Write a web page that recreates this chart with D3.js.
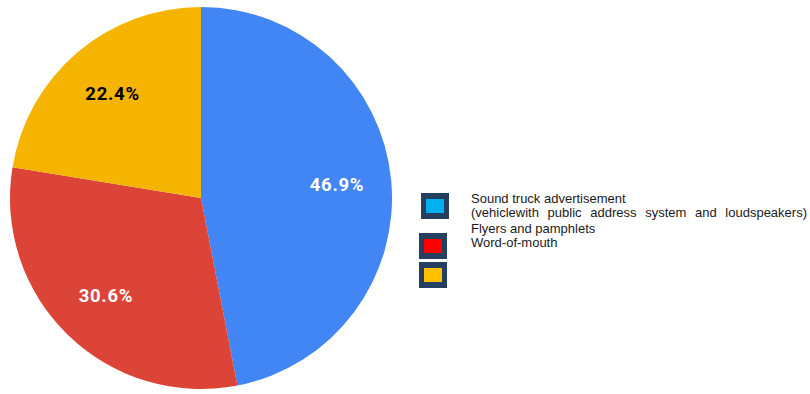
<!DOCTYPE html>
<html>
<head>
<meta charset="utf-8">
<script src="https://cdn.jsdelivr.net/npm/d3@7"></script>
<style>
  body { margin: 0; background: #fff; }
  svg { display: block; }
</style>
</head>
<body>
<svg id="chart" width="810" height="394"></svg>
<script>
var width = 810;
var height = 394;

// slice data, clockwise from 12 o'clock
var categories = ['Sound truck advertisement', 'Flyers and pamphlets', 'Word-of-mouth'];
var values = [46.9, 30.6, 22.4];
var sliceColors = ['#4285f4', '#db4437', '#f4b400'];
var labelColors = ['#fff', '#fff', '#000'];

// legend (as drawn in the original)
var legendLines = [
    'Sound truck advertisement',
    '(vehiclewith public address system and loudspeakers)',
    'Flyers and pamphlets',
    'Word-of-mouth'
];
var legendSwatches = ['#00b0f0', '#ff0000', '#ffc000'];

var svg = d3.select('#chart');

var cx = 201, cy = 198, r = 191;

var pie = d3.pie().sort(null).value(function(d) { return d; });
var arcs = pie(values);
var arc = d3.arc().innerRadius(0).outerRadius(r);
var labelArc = d3.arc().innerRadius(r * 0.715).outerRadius(r * 0.715);

var g = svg.append('g').attr('transform', 'translate(' + cx + ',' + cy + ')');

g.selectAll('path.slice')
    .data(arcs)
    .enter().append('path')
    .attr('class', 'slice')
    .attr('d', arc)
    .attr('fill', function(d, i) { return sliceColors[i]; });

g.selectAll('text.pct')
    .data(arcs)
    .enter().append('text')
    .attr('class', 'pct')
    .attr('transform', function(d) { return 'translate(' + labelArc.centroid(d) + ')'; })
    .attr('text-anchor', 'middle')
    .attr('dy', '0.35em')
    .style('font-family', 'Roboto, sans-serif')
    .style('font-weight', 'bold')
    .style('font-size', '18.5px')
    .style('letter-spacing', '0.7px')
    .attr('fill', function(d, i) { return labelColors[i]; })
    .text(function(d) { return d.data.toFixed(1) + '%'; });

// legend swatches
var swatchX = [421, 419, 419];
var swatchY = [193, 233, 262];
var legend = svg.append('g');
legend.selectAll('rect.outer')
    .data(legendSwatches)
    .enter().append('rect')
    .attr('class', 'outer')
    .attr('x', function(d, i) { return swatchX[i]; })
    .attr('y', function(d, i) { return swatchY[i]; })
    .attr('width', 28)
    .attr('height', 26)
    .attr('fill', '#243f60');

legend.selectAll('rect.inner')
    .data(legendSwatches)
    .enter().append('rect')
    .attr('class', 'inner')
    .attr('x', function(d, i) { return swatchX[i] + 5; })
    .attr('y', function(d, i) { return swatchY[i] + 6; })
    .attr('width', 18)
    .attr('height', 14)
    .attr('fill', function(d) { return d; });

var lineY = [202.7, 216.7, 232.7, 246.7];
legend.selectAll('text.leg')
    .data(legendLines)
    .enter().append('text')
    .attr('class', 'leg')
    .attr('x', 471)
    .attr('y', function(d, i) { return lineY[i]; })
    .style('font-family', '"Liberation Sans", Arial, sans-serif')
    .style('font-size', '13px')
    .attr('fill', '#1a1a1a')
    .text(function(d) { return d; })
    .each(function(d, i) {
        // second line is justified to the right edge in the original
        if (i == 1) {
            var len = this.getComputedTextLength();
            var gaps = d.split(' ').length - 1;
            d3.select(this).style('word-spacing', ((336 - len) / gaps) + 'px');
        }
    });
</script>
</body>
</html>
